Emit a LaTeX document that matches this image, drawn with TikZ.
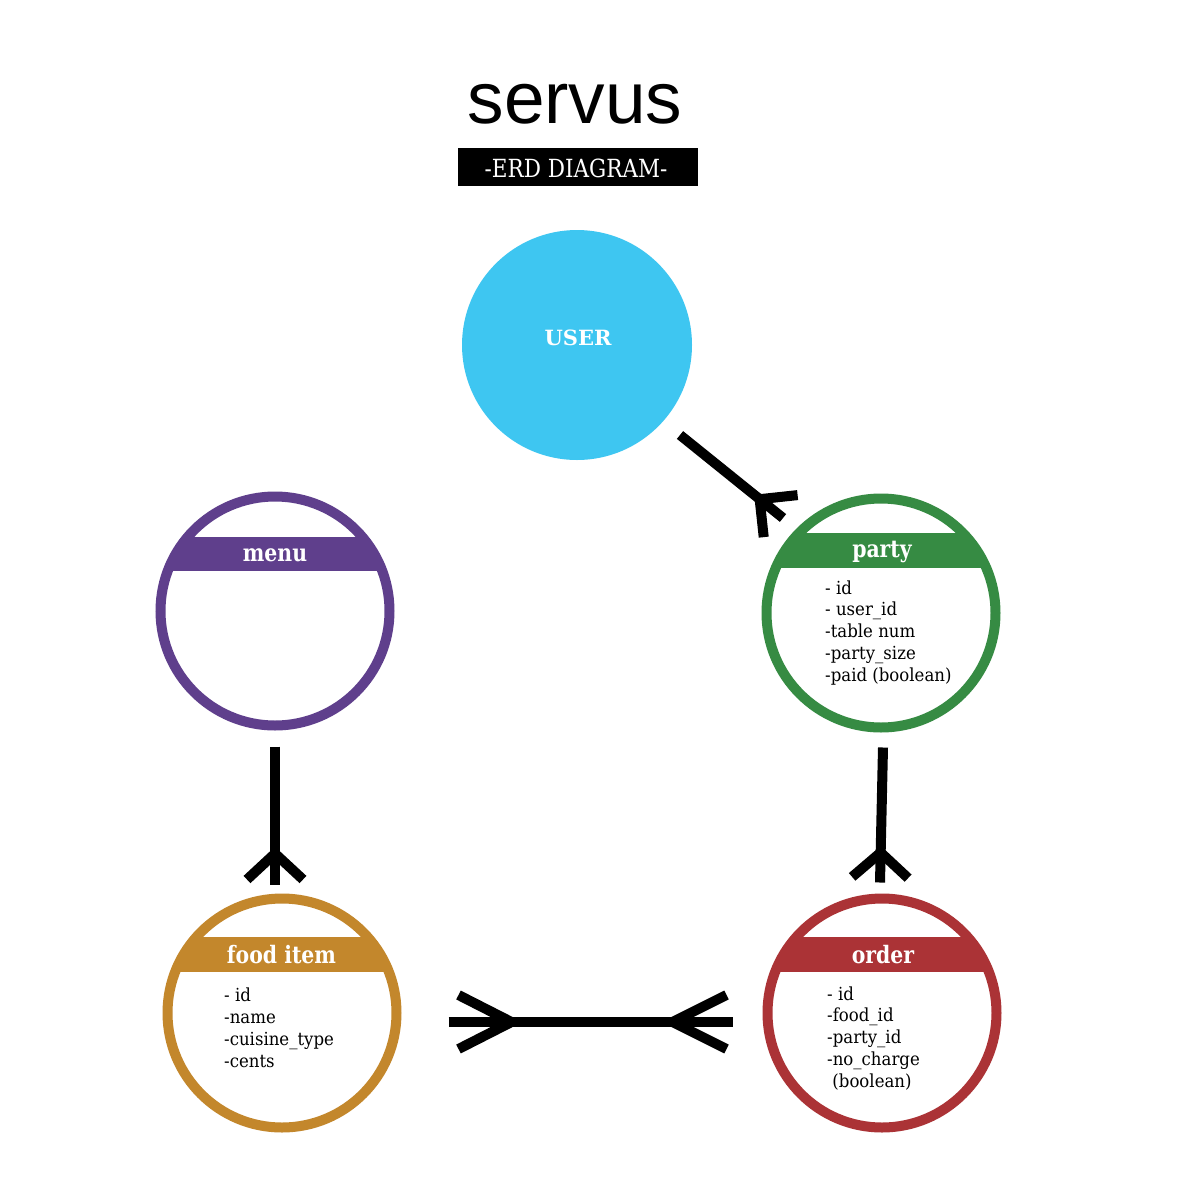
\documentclass[tikz,border=0pt]{standalone}
\usepackage{fontspec}
\setmainfont{DejaVu Serif}
\newfontfamily\titlefont{Liberation Sans}
\newfontfamily\hdrfont[FakeStretch=0.85]{DejaVu Serif}
\newfontfamily\bodyfont[FakeStretch=0.92]{DejaVu Serif}
\newfontfamily\subfont[FakeStretch=0.86]{DejaVu Serif}
\usetikzlibrary{calc}
\definecolor{userblue}{HTML}{3EC6F1}
\definecolor{menupurple}{HTML}{5F3F8C}
\definecolor{partygreen}{HTML}{368B43}
\definecolor{foodgold}{HTML}{C3872C}
\definecolor{orderred}{HTML}{AB3336}
\tikzset{
  conn/.style={line width=10pt, black},
  entity/.style={circle, line width=10pt, minimum size=229pt, inner sep=0pt, fill=white},
  hdr/.style={text=white, font=\hdrfont\bfseries\fontsize{24}{28}\selectfont, inner sep=0pt, anchor=base},
  body/.style={font=\bodyfont\fontsize{18}{21.7}\selectfont, align=left, inner sep=0pt, anchor=base west},
}
% #1 end point, #2 other end, #3 depth, #4 half width, #5 setback of prong ends
\newcommand\crowfoot[5]{%
  \coordinate (cfapex) at ($(#1)!#3!(#2)$);
  \coordinate (cfback) at ($(#1)!#5!(#2)$);
  \draw[conn] (cfapex) -- ($(cfback)!#4!90:(#2)$);
  \draw[conn] (cfapex) -- ($(cfback)!#4!-90:(#2)$);
}
\begin{document}
\begin{tikzpicture}[x=1pt,y=-1pt]
\useasboundingbox (0,0) rectangle (1200,1200);
\fill[white] (0,0) rectangle (1200,1200);

% title
\node[font=\titlefont\fontsize{73}{80}\selectfont, inner sep=0pt, anchor=base] (title) at (575,123) {servus};
\fill[black] (458,148) rectangle (698,186);
\node[text=white, font=\subfont\fontsize{25}{28}\selectfont, inner sep=0pt, anchor=base] (subtitle) at (576,177) {-ERD DIAGRAM-};

% USER
\node[circle, fill=userblue, minimum size=230pt, inner sep=0pt, outer sep=0pt] (user) at (577,345) {};
\node[text=white, font=\bfseries\fontsize{21}{24}\selectfont, inner sep=0pt, anchor=base] (usertext) at (578,345) {USER};

% entities
\node[entity, draw=menupurple] (menu) at (275,611) {};
\node[entity, draw=partygreen] (party) at (881,613) {};
\node[entity, draw=foodgold] (food) at (282,1013) {};
\node[entity, draw=orderred] (order) at (882,1013) {};

% header bands
\begin{scope}
  \clip (menu.center) circle (114.5pt);
  \fill[menupurple] ($(menu.center)+(-130,-74)$) rectangle ($(menu.center)+(130,-40)$);
\end{scope}
\begin{scope}
  \clip (party.center) circle (114.5pt);
  \fill[partygreen] ($(party.center)+(-130,-80)$) rectangle ($(party.center)+(130,-45)$);
\end{scope}
\begin{scope}
  \clip (food.center) circle (114.5pt);
  \fill[foodgold] ($(food.center)+(-130,-76)$) rectangle ($(food.center)+(130,-41)$);
\end{scope}
\begin{scope}
  \clip (order.center) circle (114.5pt);
  \fill[orderred] ($(order.center)+(-130,-76)$) rectangle ($(order.center)+(130,-41)$);
\end{scope}

% headers
\node[hdr] (menuhdr) at (275,561) {menu};
\node[hdr] (partyhdr) at (882,557) {party};
\node[hdr] (foodhdr) at (281.5,963) {food item};
\node[hdr] (orderhdr) at (883,963) {order};

% attributes (anchored at the baseline of the last line)
\node[body] (partybody) at (825,681) {- id\\- user\_id\\-table num\\-party\_size\\-paid (boolean)};
\node[body] (foodbody) at (224,1067) {- id\\-name\\-cuisine\_type\\-cents};
\node[body] (orderbody) at (827,1087) {- id\\-food\_id\\-party\_id\\-no\_charge\\\ (boolean)};

% connectors
\coordinate (u1) at ($(user)+(103,90)$);
\coordinate (u2) at ($(party)+(-98,-95)$);
\draw[conn] (u1) -- (u2);
\crowfoot{u2}{u1}{30pt}{27pt}{3pt}

\coordinate (m1) at ($(menu.south)+(0,16)$);
\coordinate (m2) at ($(food.north)+(-7,-9)$);
\draw[conn] (m1) -- (m2);
\crowfoot{m2}{m1}{31pt}{28pt}{5pt}

\coordinate (p1) at ($(party.south)+(2,15)$);
\coordinate (p2) at ($(order.north)+(-2,-11)$);
\draw[conn] (p1) -- (p2);
\crowfoot{p2}{p1}{30pt}{28pt}{5pt}

\coordinate (f1) at ($(food.east)+(47,9)$);
\coordinate (f2) at ($(order.west)+(-30,9)$);
\draw[conn] (f1) -- (f2);
\crowfoot{f1}{f2}{63pt}{27pt}{10pt}
\crowfoot{f2}{f1}{60pt}{27pt}{6pt}
\end{tikzpicture}
\end{document}
